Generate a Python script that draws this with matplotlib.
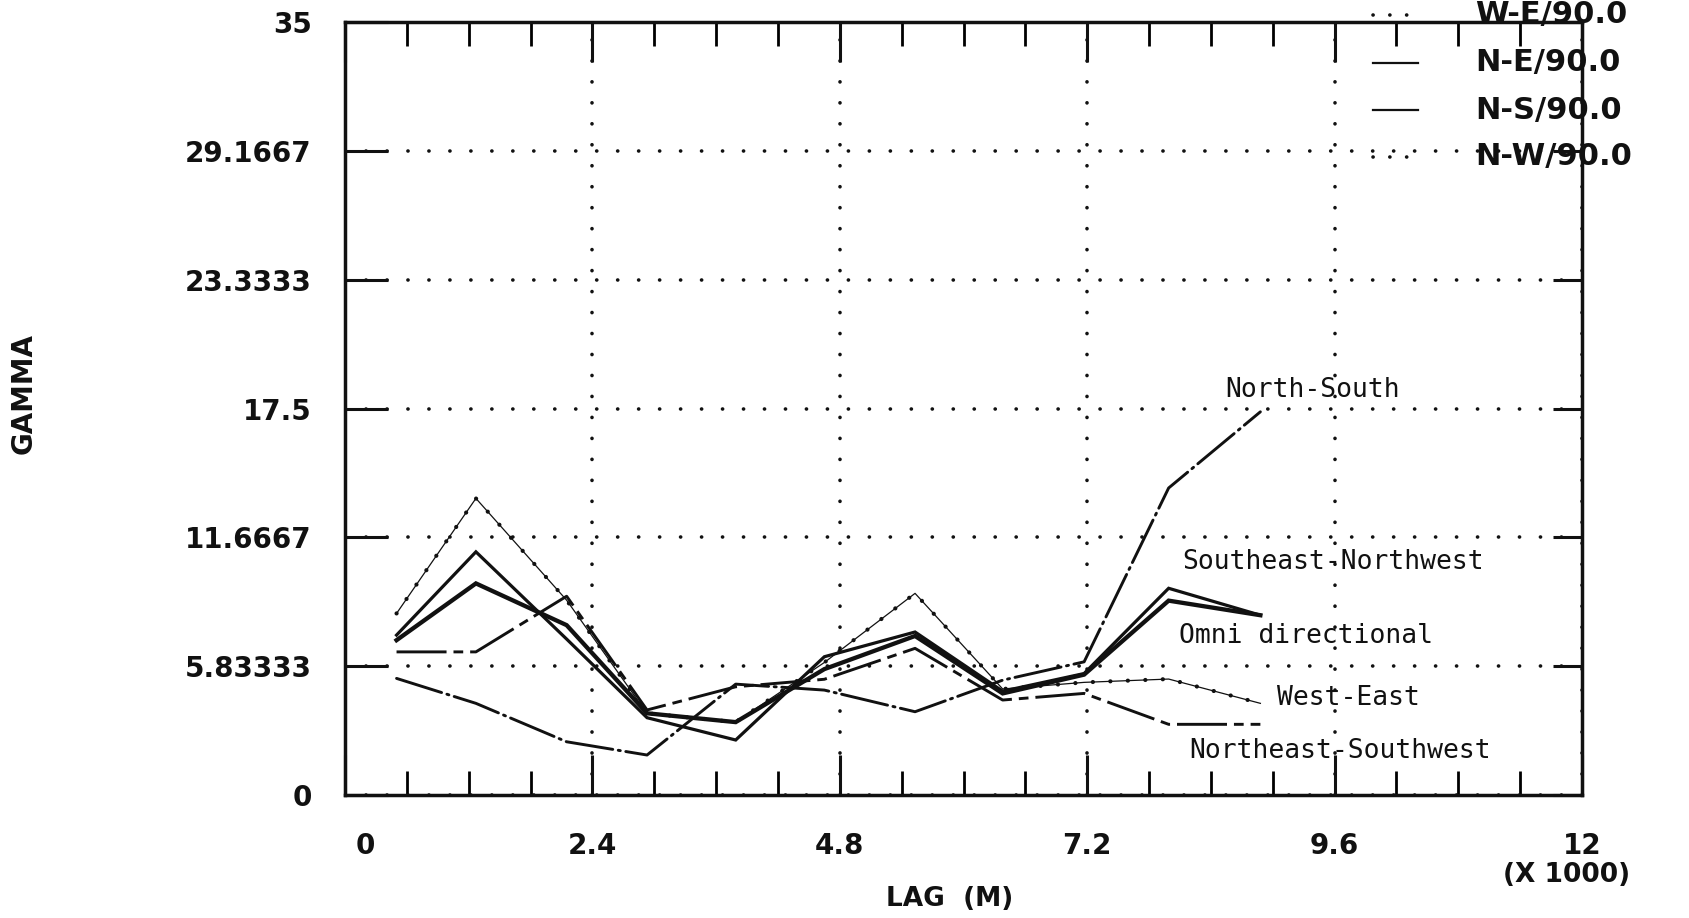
import matplotlib
matplotlib.use("Agg")
import matplotlib.pyplot as plt
from matplotlib.transforms import ScaledTranslation

# lag distance (x 1000 m) and directional semivariogram values
LAG = [0.50, 1.27, 2.15, 2.93, 3.79, 4.65, 5.53, 6.38, 7.17, 7.99, 8.88]
NORTH_SOUTH = [5.28, 4.15, 2.41, 1.81, 5.02, 4.75, 3.77, 5.20, 6.03, 13.90, 17.35]
WEST_EAST = [8.22, 13.43, 8.82, 3.70, 3.30, 6.00, 9.13, 4.80, 5.10, 5.25, 4.15]
SE_NW = [7.24, 11.01, 7.06, 3.50, 2.49, 6.26, 7.38, 4.70, 5.50, 9.36, 8.14]
OMNI = [7.01, 9.58, 7.69, 3.70, 3.30, 5.70, 7.20, 4.60, 5.45, 8.80, 8.14]
NE_SW = [6.48, 6.48, 9.00, 3.85, 4.90, 5.24, 6.64, 4.30, 4.60, 3.20, 3.20]

Y_TICKS = [0, 35 / 6, 35 / 3, 17.5, 70 / 3, 175 / 6, 35]
Y_LABELS = ["0", "5.83333", "11.6667", "17.5", "23.3333", "29.1667", "35"]
X_TICKS = [0, 2.4, 4.8, 7.2, 9.6, 12]
X_LABELS = ["0", "2.4", "4.8", "7.2", "9.6", "12"]
X_MINOR = [0.6, 1.2, 1.8, 3.0, 3.6, 4.2, 5.4, 6.0, 6.6, 7.8, 8.4, 9.0, 10.2, 10.8, 11.4]

LEGEND_TEXT = ["W-E/90.0", "N-E/90.0", "N-S/90.0", "N-W/90.0"]

INK = "#111111"
PLOT_FONT = "DejaVu Sans"
MONO = "DejaVu Sans Mono"

plt.rcParams.update({"lines.scale_dashes": False})

W, H = 1689, 918
fig = plt.figure(figsize=(W / 100, H / 100), dpi=100)
fig.patch.set_facecolor("white")
ax = fig.add_axes([345 / W, 1 - 795 / H, (1582 - 345) / W, (795 - 22) / H])

# curves
ax.plot(LAG, NORTH_SOUTH, color=INK, lw=2.1, dashes=(34, 4, 1.5, 4),
        dash_capstyle="round")
ax.plot(LAG, WEST_EAST, color=INK, lw=0.9)
ax.plot(LAG, WEST_EAST, color=INK, lw=3.0, linestyle=(0, (0.1, 12.5)),
        dash_capstyle="round")
ax.plot(LAG, SE_NW, color=INK, lw=2.3, solid_joinstyle="miter")
ax.plot(LAG, OMNI, color=INK, lw=3.1, solid_joinstyle="miter")
ax.plot(LAG, NE_SW, color=INK, lw=2.1, dashes=(36, 5, 7, 5))

# curve labels
ax.text(8.54, 18.33, "North-South", fontsize=19, family=MONO, color=INK,
        ha="left", va="center")
ax.text(8.12, 10.53, "Southeast-Northwest", fontsize=19, family=MONO,
        color=INK, ha="left", va="center")
ax.text(8.09, 7.21, "Omni directional", fontsize=19, family=MONO, color=INK,
        ha="left", va="center")
ax.text(9.04, 4.39, "West-East", fontsize=19, family=MONO, color=INK,
        ha="left", va="center")
ax.text(8.19, 1.99, "Northeast-Southwest", fontsize=19, family=MONO,
        color=INK, ha="left", va="center")

ax.set_xlim(0, 12)
ax.set_ylim(0, 35)
ax.set_xticks(X_TICKS, X_LABELS, fontsize=20, fontweight="bold",
              family=PLOT_FONT, color=INK)
ax.set_xticks(X_MINOR, minor=True)
ax.set_yticks(Y_TICKS, Y_LABELS, fontsize=20, fontweight="bold",
              family=PLOT_FONT, color=INK)

ax.grid(True, which="major", color=INK, lw=2.6, linestyle=(0, (0.1, 15)),
        dash_capstyle="round")
ax.tick_params(axis="x", which="major", direction="in", length=29, width=2.2,
               top=True, bottom=True, pad=27, colors=INK)
ax.tick_params(axis="x", which="minor", direction="in", length=17, width=2.0,
               top=True, bottom=True)
ax.tick_params(axis="y", which="major", direction="in", length=31, width=2.2,
               left=True, right=True, pad=24, colors=INK)
for t in ax.yaxis.get_major_ticks():
    t.tick2line.set_markersize(21)
# the plotter nudged the origin label clear of the frame
zero_lab = ax.get_xticklabels()[0]
zero_lab.set_transform(zero_lab.get_transform()
                       + ScaledTranslation(0.2, 0, fig.dpi_scale_trans))

for s in ax.spines.values():
    s.set_linewidth(2.5)
    s.set_color(INK)

# axis titles
fig.text(24 / W, 1 - 393 / H, "GAMMA", rotation=90, fontsize=20,
         fontweight="bold", family=PLOT_FONT, color=INK, ha="center", va="center")
fig.text(950 / W, 1 - 899 / H, "LAG  (M)", fontsize=19, fontweight="bold",
         family=PLOT_FONT, color=INK, ha="center", va="center")
fig.text(1567 / W, 1 - 875 / H, "(X 1000)", fontsize=19, fontweight="bold",
         family=PLOT_FONT, color=INK, ha="center", va="center")

# legend block in the upper right, hanging over the frame
rows_y = [15, 63, 110, 157]
for i, (label, yy) in enumerate(zip(LEGEND_TEXT, rows_y)):
    fy = 1 - yy / H
    fig.text(1475 / W, fy, label, fontsize=22, fontweight="bold",
             family=PLOT_FONT, color=INK, ha="left", va="center")
    xs = [1373 / W, 1418 / W]
    if i in (1, 2):
        fig.add_artist(plt.Line2D(xs, [fy, fy], color=INK, lw=1.6))
    else:
        fig.add_artist(plt.Line2D(xs, [fy, fy], color=INK, lw=2.6,
                                  linestyle=(0, (0.1, 12)),
                                  dash_capstyle="round"))

fig.savefig("out.png", dpi=100, facecolor="white")
